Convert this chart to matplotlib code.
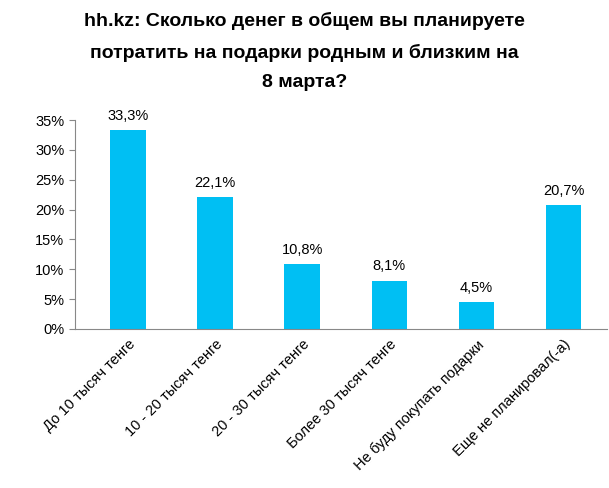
import matplotlib
matplotlib.use("Agg")
import matplotlib.pyplot as plt
from matplotlib.ticker import FuncFormatter

categories = ["До 10 тысяч тенге", "10 - 20 тысяч тенге", "20 - 30 тысяч тенге",
              "Более 30 тысяч тенге", "Не буду покупать подарки", "Еще не планировал(-а)"]
values = [33.3, 22.1, 10.8, 8.1, 4.5, 20.7]
labels = ["33,3%", "22,1%", "10,8%", "8,1%", "4,5%", "20,7%"]
yticks = [0, 5, 10, 15, 20, 25, 30, 35]

plt.rcParams["font.family"] = "Liberation Sans"
fig = plt.figure(figsize=(6.09, 4.88), dpi=100)
ax = fig.add_axes([0.123, 0.326, 0.874, 0.428])
x = range(len(categories))
ax.bar(x, values, width=0.41, color="#00BFF3")
for i, (v, l) in enumerate(zip(values, labels)):
    ax.text(i, v + 1.2, l, ha="center", va="bottom", fontsize=10.5)
ax.set_xlim(-0.61, 5.5)
ax.set_ylim(0, 35)
ax.set_yticks(yticks)
ax.yaxis.set_major_formatter(FuncFormatter(lambda v, p: f"{int(v)}%"))
ax.tick_params(axis="y", labelsize=10.5, length=4, color="#888888")
ax.set_xticks(list(x))
ax.set_xticklabels(categories, rotation=45, ha="right", rotation_mode="anchor", fontsize=10.5)
ax.tick_params(axis="x", length=0, pad=6)
for s in ["top", "right"]:
    ax.spines[s].set_visible(False)
for s in ["left", "bottom"]:
    ax.spines[s].set_color("#888888")
fig.text(0.5, 0.975, "hh.kz: Сколько денег в общем вы планируете\nпотратить на подарки родным и близким на\n8 марта?",
         ha="center", va="top", fontsize=14, fontweight="bold", linespacing=1.95)
fig.savefig("out.png", dpi=100)
